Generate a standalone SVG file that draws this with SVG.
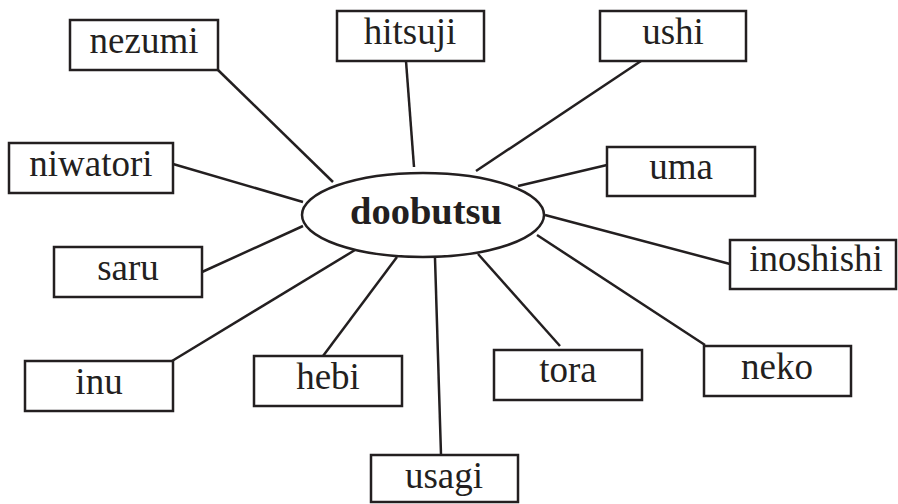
<svg xmlns="http://www.w3.org/2000/svg" width="898" height="504" viewBox="0 0 898 504">
<style>
.box{fill:#fff;stroke:#231f20;stroke-width:2.5}
.lbl{font-family:"Liberation Serif","Times New Roman",serif;font-size:37px;fill:#231f20;text-anchor:middle}
.hub{font-weight:bold;font-size:38.5px}
.con line{stroke:#231f20;stroke-width:2.5;stroke-linecap:butt}
</style>
<rect width="898" height="504" fill="#fff"/>
<g class="con" id="connectors">
<line x1="218" y1="70" x2="333" y2="182"/>
<line x1="406" y1="61" x2="414" y2="167"/>
<line x1="641" y1="61" x2="476" y2="171"/>
<line x1="607" y1="165" x2="518" y2="186"/>
<line x1="730" y1="264" x2="545" y2="215"/>
<line x1="537" y1="235" x2="705" y2="345"/>
<line x1="478" y1="254" x2="560" y2="346"/>
<line x1="435" y1="258" x2="441" y2="455"/>
<line x1="397" y1="257" x2="323" y2="356"/>
<line x1="355" y1="250" x2="172" y2="361"/>
<line x1="202" y1="272" x2="303" y2="226"/>
<line x1="173" y1="164" x2="303" y2="202"/>
</g>
<g id="doobutsu">
<ellipse cx="423" cy="215" rx="121" ry="42" fill="#fff" stroke="#231f20" stroke-width="2.5"/>
<text class="lbl hub" x="426" y="224">doobutsu</text>
</g>
<g id="nezumi"><rect class="box" x="70" y="20" width="148" height="50"/><text class="lbl" x="144" y="53">nezumi</text></g>
<g id="hitsuji"><rect class="box" x="337" y="11" width="147" height="50"/><text class="lbl" x="410" y="44">hitsuji</text></g>
<g id="ushi"><rect class="box" x="600" y="11" width="146" height="50"/><text class="lbl" x="673" y="44">ushi</text></g>
<g id="niwatori"><rect class="box" x="9" y="143" width="164" height="50"/><text class="lbl" x="91" y="176">niwatori</text></g>
<g id="uma"><rect class="box" x="607" y="147" width="148" height="49"/><text class="lbl" x="681" y="179">uma</text></g>
<g id="saru"><rect class="box" x="54" y="247" width="148" height="50"/><text class="lbl" x="128" y="280">saru</text></g>
<g id="inoshishi"><rect class="box" x="730" y="240" width="166" height="49"/><text class="lbl" x="816" y="271">inoshishi</text></g>
<g id="inu"><rect class="box" x="25" y="361" width="148" height="50"/><text class="lbl" x="99" y="394">inu</text></g>
<g id="hebi"><rect class="box" x="254" y="356" width="148" height="50"/><text class="lbl" x="328" y="389">hebi</text></g>
<g id="tora"><rect class="box" x="494" y="350" width="148" height="50"/><text class="lbl" x="568" y="382">tora</text></g>
<g id="neko"><rect class="box" x="704" y="346" width="147" height="50"/><text class="lbl" x="777" y="379">neko</text></g>
<g id="usagi"><rect class="box" x="371" y="455" width="147" height="47"/><text class="lbl" x="444" y="488">usagi</text></g>
</svg>
